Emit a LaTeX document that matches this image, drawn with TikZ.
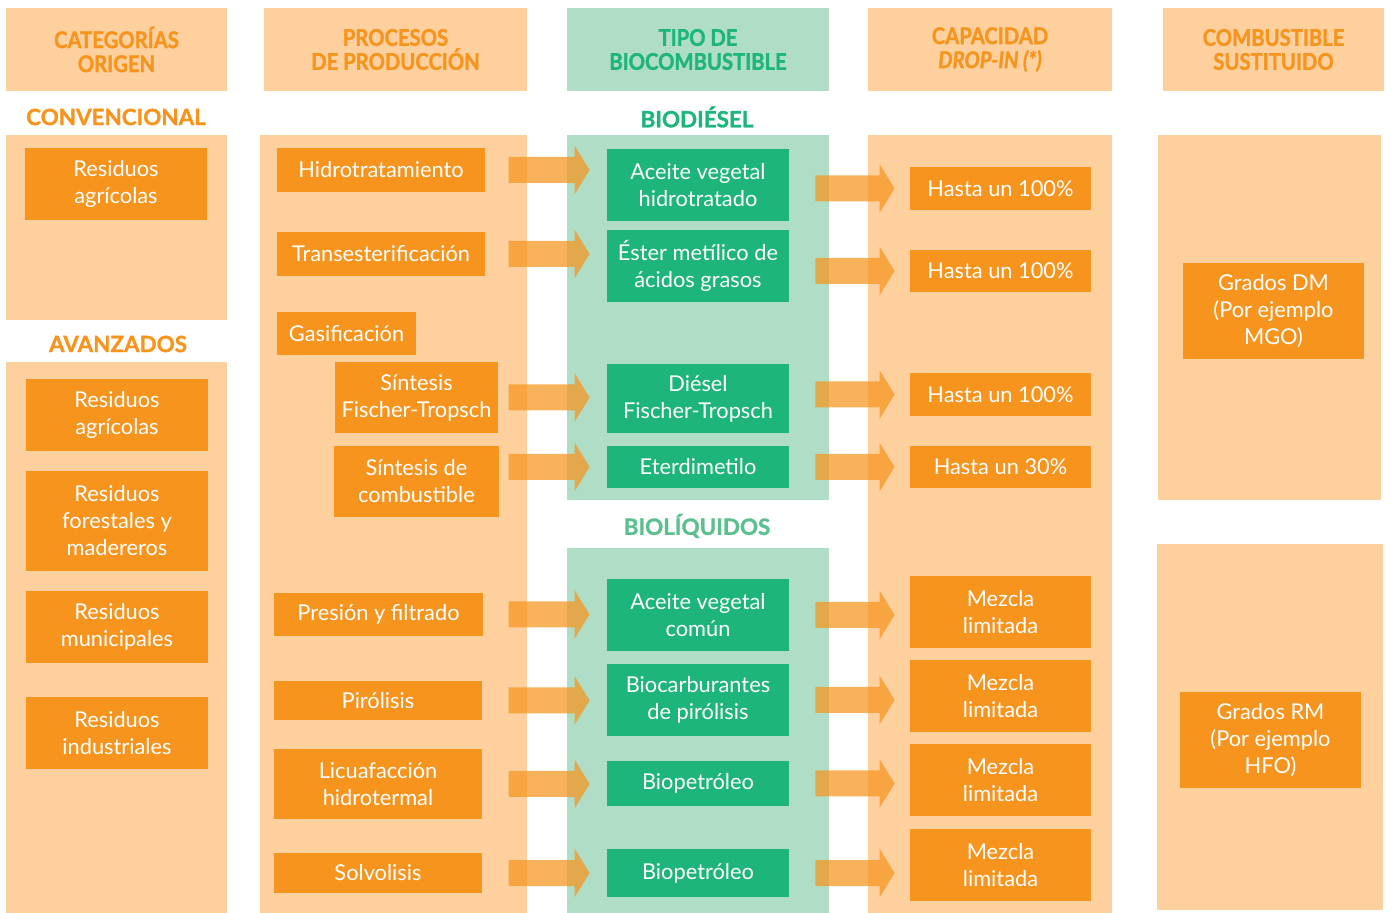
\documentclass[tikz,border=0pt]{standalone}
\usepackage{fontspec}
\setmainfont{Lato}
\newfontfamily\headfont[FakeStretch=0.88, FakeBold=1.3, ItalicFont={Lato Bold Italic}]{Lato Bold}
\newfontfamily\secfont[FakeBold=1.3]{Lato Bold}
\usepackage{tikz}
\usetikzlibrary{arrows.meta, calc}
\definecolor{naranja}{HTML}{F7941D}
\definecolor{crema}{HTML}{FDD09E}
\definecolor{verde}{HTML}{1DB57A}
\definecolor{verdeclaro}{HTML}{B0DDC6}
\definecolor{verdemedio}{HTML}{5CBF8E}
\tikzset{>=latex}

\begin{document}
\begin{tikzpicture}[x=0.5pt, y=-0.5pt,
    head/.style={fill=crema, text=naranja, align=center, inner sep=0pt, font=\headfont\fontsize{11.5}{12}\selectfont},
    headg/.style={head, fill=verdeclaro, text=verde},
    seccion/.style={text=naranja, inner sep=0pt, font=\secfont\fontsize{11.2}{12}\selectfont},
    obox/.style={fill=naranja, text=white, align=center, inner sep=0pt, minimum width=91pt, minimum height=36pt, font=\fontsize{10.9}{13.5}\selectfont},
    gbox/.style={obox, fill=verde},
    fatl/.style={draw=naranja, line width=13pt, -{Triangle[width=24pt,length=7.5pt]}, shorten >=8.5pt},
    fatr/.style={fatl, shorten <=13pt, shorten >=7.5pt}]
      \useasboundingbox (0,0) rectangle (1392,913);

      % fondos
      \fill[crema] (6,135) rectangle (227,320);
      \fill[crema] (6,362) rectangle (227,913);
      \fill[crema] (260,135) rectangle (527,913);
      \fill[verdeclaro] (567,135) rectangle (829,500);
      \fill[verdeclaro] (567,548) rectangle (829,913);
      \fill[crema] (868,135) rectangle (1112,913);
      \fill[crema] (1158,135) rectangle (1381,500);
      \fill[crema] (1157,544) rectangle (1383,910);

      % cabeceras
      \node (h1) at (116.5,49.5) [head, minimum width=110.5pt, minimum height=41.5pt] {CATEGORÍAS\\ORIGEN};
      \node (h2) at (395.5,49.5) [head, minimum width=131.5pt, minimum height=41.5pt] {PROCESOS\\DE PRODUCCIÓN};
      \node (h3) at (698,49.5) [headg, minimum width=131pt, minimum height=41.5pt] {TIPO DE\\BIOCOMBUSTIBLE};
      \node (h4) at (990,49.5) [head, minimum width=122pt, minimum height=41.5pt] {CAPACIDAD\\\textit{DROP-IN (*)}};
      \node (h5) at (1273.5,49.5) [head, minimum width=110.5pt, minimum height=41.5pt] {COMBUSTIBLE\\SUSTITUIDO};

      \node (conv) at (116,117) [seccion] {CONVENCIONAL};
      \node (avan) at (118,344) [seccion] {AVANZADOS};
      \node (biod) at (697,117) [seccion, text=verde] {BIODIÉSEL};
      \node (bliq) at (697,526) [seccion, text=verdemedio] {BIOLÍQUIDOS};

      % origen
      \node (o1) at (116,184) [obox] {Residuos\\agrícolas};
      \node (o2) at (117,415) [obox] {Residuos\\agrícolas};
      \node (o3) at (117,521) [obox, minimum height=50pt] {Residuos\\forestales y\\madereros};
      \node (o4) at (117,627) [obox] {Residuos\\municipales};
      \node (o5) at (117,733) [obox] {Residuos\\industriales};

      % procesos
      \node (p1) at (381,170) [obox, minimum width=104pt, minimum height=22pt] {Hidrotratamiento};
      \node (p2) at (381,254) [obox, minimum width=104pt, minimum height=22pt] {Transesterificación};
      \node (p3) at (346.5,333.5) [obox, minimum width=69.5pt, minimum height=21.5pt] {Gasificación};
      \node (p4) at (416.5,397.5) [obox, minimum width=81.5pt, minimum height=35.5pt] {Síntesis\\Fischer-Tropsch};
      \node (p5) at (416.5,481.5) [obox, minimum width=82.5pt, minimum height=35.5pt] {Síntesis de\\combustible};
      \node (p6) at (378.5,614.5) [obox, minimum width=104.5pt, minimum height=21.5pt] {Presión y filtrado};
      \node (p7) at (378,700.5) [obox, minimum width=104pt, minimum height=19.5pt] {Pirólisis};
      \node (p8) at (378,784) [obox, minimum width=104pt, minimum height=35pt] {Licuafacción\\hidrotermal};
      \node (p9) at (378,873) [obox, minimum width=104pt, minimum height=20pt] {Solvolisis};

      % biocombustibles
      \node (f1) at (698,185) [gbox] {Aceite vegetal\\hidrotratado};
      \node (f2) at (698,266) [gbox] {Éster metílico de\\ácidos grasos};
      \node (f3) at (698,398.5) [gbox, minimum height=34.5pt] {Diésel\\Fischer-Tropsch};
      \node (f4) at (698,467) [gbox, minimum height=21pt] {Eterdimetilo};
      \node (f5) at (698,615) [gbox] {Aceite vegetal\\común};
      \node (f6) at (698,700) [gbox] {Biocarburantes\\de pirólisis};
      \node (f7) at (698,783.5) [gbox, minimum height=22.5pt] {Biopetróleo};
      \node (f8) at (698,873) [gbox, minimum height=24pt] {Biopetróleo};

      % capacidad
      \node (c1) at (1000.5,188.5) [obox, minimum width=90.5pt, minimum height=21.5pt] {Hasta un 100\%};
      \node (c2) at (1000.5,271) [obox, minimum width=90.5pt, minimum height=21pt] {Hasta un 100\%};
      \node (c3) at (1000.5,394.5) [obox, minimum width=90.5pt, minimum height=21.5pt] {Hasta un 100\%};
      \node (c4) at (1000.5,467) [obox, minimum width=90.5pt, minimum height=21pt] {Hasta un 30\%};
      \node (c5) at (1000.5,612) [obox, minimum width=90.5pt] {Mezcla\\limitada};
      \node (c6) at (1000.5,696) [obox, minimum width=90.5pt] {Mezcla\\limitada};
      \node (c7) at (1000.5,780) [obox, minimum width=90.5pt] {Mezcla\\limitada};
      \node (c8) at (1000.5,865) [obox, minimum width=90.5pt] {Mezcla\\limitada};

      % sustituido
      \node (s1) at (1273.5,311) [obox, minimum width=90.5pt, minimum height=48pt] {Grados DM\\(Por ejemplo\\MGO)};
      \node (s2) at (1270.5,740) [obox, minimum width=90.5pt, minimum height=48pt] {Grados RM\\(Por ejemplo\\HFO)};

      % flechas
      \foreach \a/\b in {p1/f1, p2/f2, p4/f3, p6/f5, p7/f6, p8/f7, p9/f8} {
        \begin{scope}[transparency group, opacity=0.72]
          \draw[fatl] ($(\a.east -| \b.west)+(-98,0)$) -- (\a.east -| \b.west);
        \end{scope}
      }
      \begin{scope}[transparency group, opacity=0.72]
        \draw[fatl] ($(f4.west)+(-98,0)$) -- (f4.west);
      \end{scope}
      \foreach \a/\b in {f1/c1, f2/c2, f3/c3, f4/c4} {
        \begin{scope}[transparency group, opacity=0.72]
          \draw[fatr] (\b.west -| \a.east) -- (\b.west);
        \end{scope}
      }
      \foreach \a/\b in {f5/c5, f6/c6, f7/c7, f8/c8} {
        \begin{scope}[transparency group, opacity=0.72]
          \draw[fatr] (\a.east) -- (\a.east -| \b.west);
        \end{scope}
      }
\end{tikzpicture}
\end{document}
